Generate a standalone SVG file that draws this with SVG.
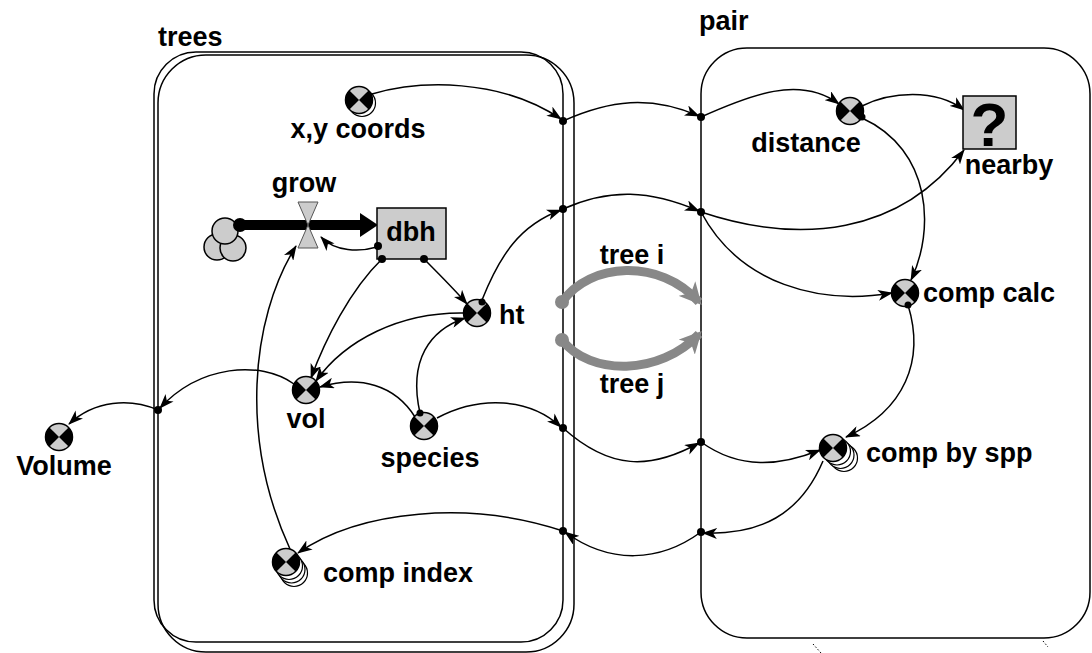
<svg xmlns="http://www.w3.org/2000/svg" xmlns:xlink="http://www.w3.org/1999/xlink" width="1092" height="653" viewBox="0 0 1092 653">
<defs>
<style>
.lbl{font-family:"Liberation Sans",Arial,sans-serif;font-weight:bold;font-size:27px;fill:#000}
.cn{fill:none;stroke:#000;stroke-width:1.5;marker-end:url(#arr)}
.dot{fill:#000}
.box{fill:#cccccc;stroke:#000;stroke-width:1.5}
.ring{fill:#fff;stroke:#000;stroke-width:1.2}
.cont{fill:none;stroke:#000;stroke-width:1.5}
.gray{fill:none;stroke:#888;stroke-width:9;marker-end:url(#garr)}
</style>
<marker id="arr" viewBox="0 0 15 11" refX="14" refY="5.5" markerWidth="15" markerHeight="11" markerUnits="userSpaceOnUse" orient="auto">
<path d="M0,0 L15,5.5 L0,11 L4,5.5 Z" fill="#000"/>
</marker>
<marker id="garr" viewBox="0 0 22 22" refX="18" refY="11" markerWidth="22" markerHeight="22" markerUnits="userSpaceOnUse" orient="auto">
<path d="M0,0 L22,11 L0,22 L6,11 Z" fill="#888"/>
</marker>
<g id="conv">
<circle cx="0" cy="0" r="13.5" fill="#cccccc" stroke="#000" stroke-width="1.5"/>
<path d="M0,0 L-9.55,-9.55 A13.5,13.5 0 0 0 -9.55,9.55 Z" fill="#000"/>
<path d="M0,0 L9.55,-9.55 A13.5,13.5 0 0 1 9.55,9.55 Z" fill="#000"/>
</g>
</defs>
<rect width="1092" height="653" fill="#fff"/>

<g id="trees-container">
<rect class="cont" x="154" y="52" width="409" height="590" rx="42" ry="42"/>
<rect class="cont" x="158" y="55" width="416" height="597" rx="48" ry="48"/>
<text class="lbl" x="158" y="46">trees</text>
</g>
<g id="pair-container">
<rect class="cont" x="701" y="48" width="389" height="590" rx="46" ry="46"/>
<text class="lbl" x="699" y="30">pair</text>
<path d="M813,644 L821,653" stroke="#000" stroke-width="1" stroke-dasharray="1.5,2" fill="none"/>
<path d="M1043,641 L1048,647" stroke="#000" stroke-width="1" stroke-dasharray="1.5,2" fill="none"/>
</g>

<g id="connectors">
<path class="cn" d="M372,94 C420,80 500,78 561,119"/>
<path class="cn" d="M563,121 C610,100 650,95 699,116"/>
<path class="cn" d="M701,117 C750,95 800,75 839,104"/>
<path class="cn" d="M862,106 C890,92 935,88 964,110"/>
<path class="cn" d="M862,118 C932,150 935,230 911,280"/>
<path class="cn" d="M482,300 C500,255 520,225 561,210"/>
<path class="cn" d="M563,209 C610,188 650,190 699,211"/>
<path class="cn" d="M701,212 C800,245 900,235 964,150"/>
<path class="cn" d="M701,212 C740,285 820,305 892,293"/>
<path class="cn" d="M424,259 C440,275 455,290 467,304"/>
<path class="cn" d="M382,259 C350,290 325,340 311,378"/>
<path class="cn" d="M377,247 C360,252 335,252 321,237"/>
<path class="cn" d="M464,313 C400,312 345,340 316,381"/>
<path class="cn" d="M420,413 C408,360 430,330 465,318"/>
<path class="cn" d="M415,417 C395,385 360,375 320,387"/>
<path class="cn" d="M437,418 C480,395 530,398 561,427"/>
<path class="cn" d="M563,428 C610,470 650,470 699,443"/>
<path class="cn" d="M701,442 C740,470 780,466 820,450"/>
<path class="cn" d="M908,305 C925,360 905,410 846,437"/>
<path class="cn" d="M823,461 C800,515 760,535 703,533"/>
<path class="cn" d="M701,532 C660,562 610,565 565,532"/>
<path class="cn" d="M563,531 C470,500 360,510 298,553"/>
<path class="cn" d="M290,549 C240,440 250,320 296,246"/>
<path class="cn" d="M294,384 C260,360 200,365 160,408"/>
<path class="cn" d="M158,410 C130,398 95,400 69,424"/>
<path class="gray" d="M562,302 C590,262 660,258 699,302"/>
<path class="gray" d="M562,340 C590,376 660,376 699,334"/>
<circle cx="562" cy="302" r="7" fill="#888"/>
<circle cx="562" cy="340" r="7" fill="#888"/>
<g class="dot">
<circle cx="563" cy="121" r="4"/>
<circle cx="701" cy="117" r="4"/>
<circle cx="563" cy="209" r="4"/>
<circle cx="701" cy="212" r="4"/>
<circle cx="563" cy="428" r="4"/>
<circle cx="701" cy="442" r="4"/>
<circle cx="701" cy="532" r="4"/>
<circle cx="563" cy="531" r="4"/>
<circle cx="158" cy="410" r="4"/>
</g>
</g>

<g id="flow-grow">
<line x1="240" y1="225" x2="364" y2="225" stroke="#000" stroke-width="10"/>
<path d="M360,213 L378,225 L360,237 Z" fill="#000"/>
<circle cx="217" cy="247" r="13" fill="#cccccc" stroke="#000" stroke-width="1.5"/>
<circle cx="233" cy="248" r="13" fill="#cccccc" stroke="#000" stroke-width="1.5"/>
<circle cx="225" cy="231" r="13" fill="#cccccc" stroke="#000" stroke-width="1.5"/>
<circle cx="240" cy="225" r="7" fill="#000"/>
<path d="M298,202 L318,202 L308,225 Z M298,248 L318,248 L308,225 Z" fill="#cccccc" stroke="#555" stroke-width="1"/>
<text class="lbl" x="304" y="192" text-anchor="middle">grow</text>
</g>

<g id="dbh">
<rect class="box" x="377" y="208" width="69" height="51"/>
<text class="lbl" x="411" y="241" text-anchor="middle">dbh</text>
<circle class="dot" cx="378" cy="246" r="4"/>
<circle class="dot" cx="382" cy="259" r="4"/>
<circle class="dot" cx="424" cy="259" r="4"/>
</g>

<g id="xy-coords">
<circle class="ring" cx="362" cy="103" r="13.5"/>
<use xlink:href="#conv" href="#conv" x="359" y="100"/>
<text class="lbl" x="358" y="138" text-anchor="middle">x,y coords</text>
</g>

<g id="ht">
<use xlink:href="#conv" href="#conv" x="477" y="313"/>
<circle class="dot" cx="482" cy="302" r="3.5"/>
<text class="lbl" x="499" y="324">ht</text>
</g>

<g id="vol">
<use xlink:href="#conv" href="#conv" x="306" y="390"/>
<text class="lbl" x="306" y="428" text-anchor="middle">vol</text>
</g>

<g id="species">
<use xlink:href="#conv" href="#conv" x="424" y="426"/>
<circle class="dot" cx="420" cy="413" r="3.5"/>
<text class="lbl" x="430" y="467" text-anchor="middle">species</text>
</g>

<g id="volume">
<use xlink:href="#conv" href="#conv" x="59" y="437"/>
<text class="lbl" x="64" y="475" text-anchor="middle">Volume</text>
</g>

<g id="comp-index">
<circle class="ring" cx="294" cy="573" r="13.5"/>
<circle class="ring" cx="291.5" cy="569.5" r="13.5"/>
<circle class="ring" cx="289" cy="566" r="13.5"/>
<use xlink:href="#conv" href="#conv" x="286" y="562"/>
<text class="lbl" x="323" y="582">comp index</text>
</g>

<g id="distance">
<use xlink:href="#conv" href="#conv" x="850" y="111"/>
<circle class="dot" cx="862" cy="117" r="3.5"/>
<text class="lbl" x="806" y="152" text-anchor="middle">distance</text>
</g>

<g id="nearby">
<rect class="box" x="963" y="96" width="53" height="53"/>
<text x="989.5" y="146" text-anchor="middle" style="font-family:'Liberation Sans',Arial,sans-serif;font-weight:bold;font-size:62px">?</text>
<text class="lbl" x="1009" y="174" text-anchor="middle">nearby</text>
</g>

<g id="comp-calc">
<use xlink:href="#conv" href="#conv" x="905" y="293"/>
<circle class="dot" cx="908" cy="305" r="3.5"/>
<text class="lbl" x="923" y="302">comp calc</text>
</g>

<g id="comp-by-spp">
<circle class="ring" cx="844" cy="458" r="13.5"/>
<circle class="ring" cx="840.5" cy="455" r="13.5"/>
<circle class="ring" cx="837" cy="451.5" r="13.5"/>
<use xlink:href="#conv" href="#conv" x="833" y="448"/>
<text class="lbl" x="866" y="462">comp by spp</text>
</g>

<g id="tree-labels">
<text class="lbl" x="632" y="264" text-anchor="middle">tree i</text>
<text class="lbl" x="632" y="393" text-anchor="middle">tree j</text>
</g>
</svg>
